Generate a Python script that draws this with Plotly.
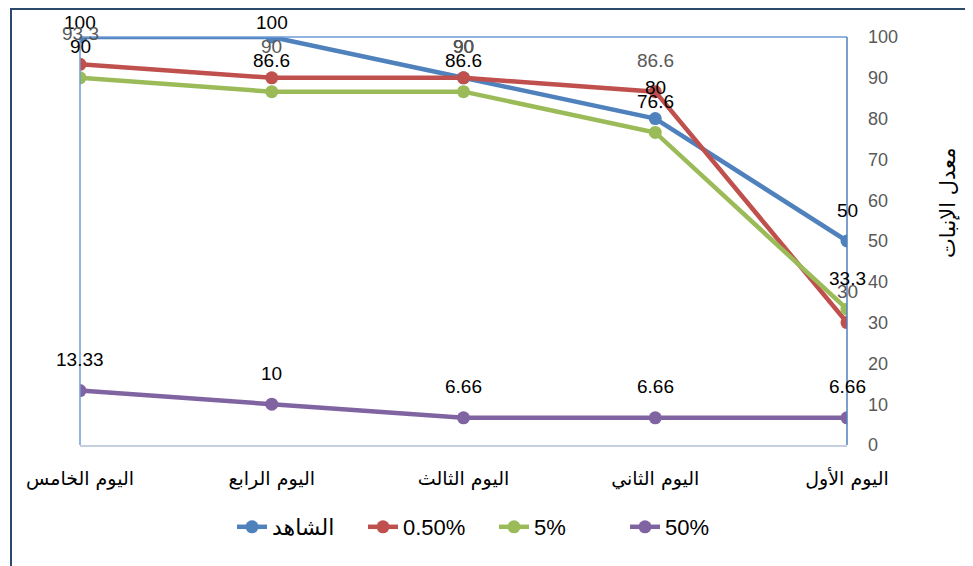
import plotly.graph_objects as go

days = ["اليوم الأول", "اليوم الثاني", "اليوم الثالث", "اليوم الرابع", "اليوم الخامس"]
series_names = ["الشاهد", "0.50%", "5%", "50%"]
control = [50, 80, 90, 100, 100]
conc_050 = [30, 86.6, 90, 90, 93.3]
conc_5 = [33.3, 76.6, 86.6, 86.6, 90]
conc_50 = [6.66, 6.66, 6.66, 10, 13.33]
label_text = [
    ["50", "80", "90", "100", "100"],
    ["30", "86.6", "90", "90", "93.3"],
    ["33.3", "76.6", "86.6", "86.6", "90"],
    ["6.66", "6.66", "6.66", "10", "13.33"],
]
y_ticks = [0, 10, 20, 30, 40, 50, 60, 70, 80, 90, 100]

colors = ["#4F81BD", "#C0504D", "#9BBB59", "#8064A2"]
label_colors = ["#000000", "#595959", "#000000", "#000000"]
all_series = [control, conc_050, conc_5, conc_50]

# page offset (body margin) of 8px
OFF = 8
W, H = 973 - OFF, 566 - OFF
PL, PR, PT, PB = 80, 847, 37, 445  # plot area in page pixels
L, T = PL - OFF, PT - OFF
R = W - (PR - OFF)
B = H - (PB - OFF)
pw = PR - PL
ph = PB - PT

def px(xp):
    return (xp - PL) / pw

def py(yp):
    return (PB - yp) / ph

fig = go.Figure()
for name, vals, col in zip(series_names, all_series, colors):
    fig.add_trace(go.Scatter(
        x=days, y=vals, name=name, mode="lines+markers",
        line=dict(color=col, width=4.5),
        marker=dict(color=col, size=13),
    ))

for vals, texts, lc in zip(all_series, label_text, label_colors):
    for d, v, t in zip(days, vals, texts):
        point_px = PT + (100 - v) / 100 * ph
        shift = min(31, point_px - 22)
        fig.add_annotation(x=d, y=v, text=t, showarrow=False, yshift=shift,
                           font=dict(size=19, color=lc, family="Liberation Sans"))

fig.add_annotation(x=px(962), y=py(203), xref="paper", yref="paper",
                   text="معدل الإنبات", textangle=-90, showarrow=False,
                   font=dict(size=21, color="#000000", family="DejaVu Sans"))

shapes = [
    dict(type="line", xref="paper", yref="paper", x0=0, x1=0, y0=0, y1=1, line=dict(color="#6E9BD6", width=1.5)),
    dict(type="line", xref="paper", yref="paper", x0=0, x1=1, y0=1, y1=1, line=dict(color="#6E9BD6", width=1.5)),
    dict(type="line", xref="paper", yref="paper", x0=1, x1=1, y0=0, y1=1, line=dict(color="#4F81BD", width=1.5)),
    dict(type="rect", xref="paper", yref="paper", x0=px(11), x1=px(970), y0=py(580), y1=py(9),
         line=dict(color="#2C4A6E", width=2), layer="below"),
]

fig.update_layout(
    width=W, height=H,
    margin=dict(l=L, r=R, t=T, b=B, autoexpand=False),
    paper_bgcolor="white", plot_bgcolor="white",
    showlegend=True,
    legend=dict(orientation="h", x=px(232), xanchor="left", y=py(527), yanchor="middle",
                font=dict(size=22, color="#000000", family="Liberation Sans, DejaVu Sans"),
                entrywidth=86, entrywidthmode="pixels", tracegroupgap=0),
    xaxis=dict(type="category", range=[4, 0], showgrid=False, zeroline=False,
               showline=True, linecolor="#C5CFDD", linewidth=1.5,
               ticks="", ticklabelstandoff=15,
               tickfont=dict(size=19, color="#000000", family="DejaVu Sans")),
    yaxis=dict(side="right", range=[0, 100], tickvals=y_ticks, showgrid=False, zeroline=False,
               showline=False, ticks="", ticklabelstandoff=20,
               tickfont=dict(size=18, color="#595959", family="Liberation Sans")),
    shapes=shapes,
)

fig.write_html("out.html")
